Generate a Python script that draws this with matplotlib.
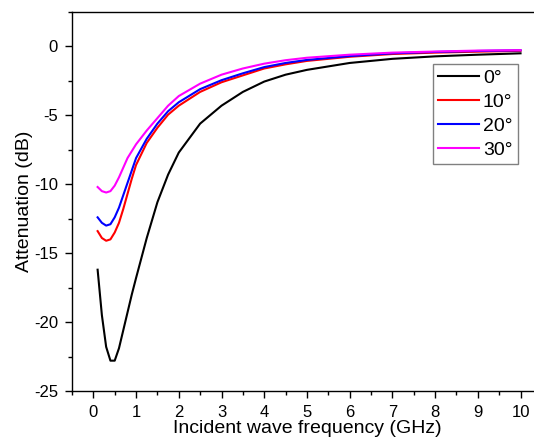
import matplotlib
matplotlib.use("agg")
import matplotlib.pyplot as plt
from matplotlib.ticker import MultipleLocator

plt.rcParams['font.family'] = ['Liberation Sans', 'DejaVu Sans']
plt.rcParams['axes.unicode_minus'] = False

# frequency (GHz) and attenuation (dB)
freq = [0.1, 0.2, 0.3, 0.4, 0.5, 0.6, 0.7, 0.8, 0.9, 1.0, 1.25, 1.5, 1.75, 2.0,
        2.5, 3.0, 3.5, 4.0, 4.5, 5.0, 6.0, 7.0, 8.0, 9.0, 10.0]
att_0 = [-16.2, -19.5, -21.8, -22.8, -22.8, -21.9, -20.6, -19.3, -18.0, -16.8, -13.9, -11.3, -9.3, -7.7,
         -5.6, -4.3, -3.3, -2.55, -2.05, -1.7, -1.2, -0.9, -0.72, -0.6, -0.5]
att_10 = [-13.4, -13.9, -14.1, -14.0, -13.5, -12.8, -11.8, -10.7, -9.6, -8.6, -7.0, -5.9, -4.95, -4.3,
          -3.3, -2.6, -2.1, -1.6, -1.3, -1.05, -0.75, -0.55, -0.45, -0.38, -0.32]
att_20 = [-12.4, -12.8, -13.0, -12.9, -12.4, -11.7, -10.8, -9.9, -9.0, -8.1, -6.7, -5.6, -4.7, -4.05,
          -3.1, -2.45, -1.95, -1.5, -1.2, -0.98, -0.7, -0.5, -0.4, -0.33, -0.28]
att_30 = [-10.2, -10.5, -10.6, -10.5, -10.1, -9.5, -8.8, -8.1, -7.6, -7.1, -6.1, -5.2, -4.3, -3.6,
          -2.7, -2.05, -1.6, -1.25, -1.0, -0.82, -0.6, -0.45, -0.37, -0.3, -0.27]
labels = ['0°', '10°', '20°', '30°']
colors = ['black', 'red', 'blue', 'magenta']

fig = plt.figure(figsize=(5.34, 4.37), dpi=100)
ax = fig.add_axes([0.1348, 0.1053, 0.880, 0.8673])

for y, lab, c in zip([att_0, att_10, att_20, att_30], labels, colors):
    ax.plot(freq, y, color=c, lw=1.5, label=lab)

ax.set_xlim(-0.5, 10.5)
ax.set_ylim(-25, 2.5)
ax.xaxis.set_major_locator(MultipleLocator(1))
ax.xaxis.set_minor_locator(MultipleLocator(0.5))
ax.yaxis.set_major_locator(MultipleLocator(5))
ax.yaxis.set_minor_locator(MultipleLocator(2.5))
ax.tick_params(which='major', direction='out', length=5, width=1, labelsize=12, pad=5)
ax.tick_params(which='minor', direction='out', length=3, width=1)
for s in ax.spines.values():
    s.set_linewidth(1)

ax.set_xlabel("Incident wave frequency (GHz)", fontsize=14, labelpad=0)
ax.set_ylabel("Attenuation (dB)", fontsize=14, labelpad=1)

leg = ax.legend(loc='upper left', bbox_to_anchor=(0.768, 0.863), fontsize=14,
                fancybox=False, framealpha=1, edgecolor='grey', handlelength=2.1,
                handletextpad=0.2, borderpad=0.27, labelspacing=0.33, borderaxespad=0)
leg.get_frame().set_linewidth(1)

plt.savefig('out.png', dpi=100)
